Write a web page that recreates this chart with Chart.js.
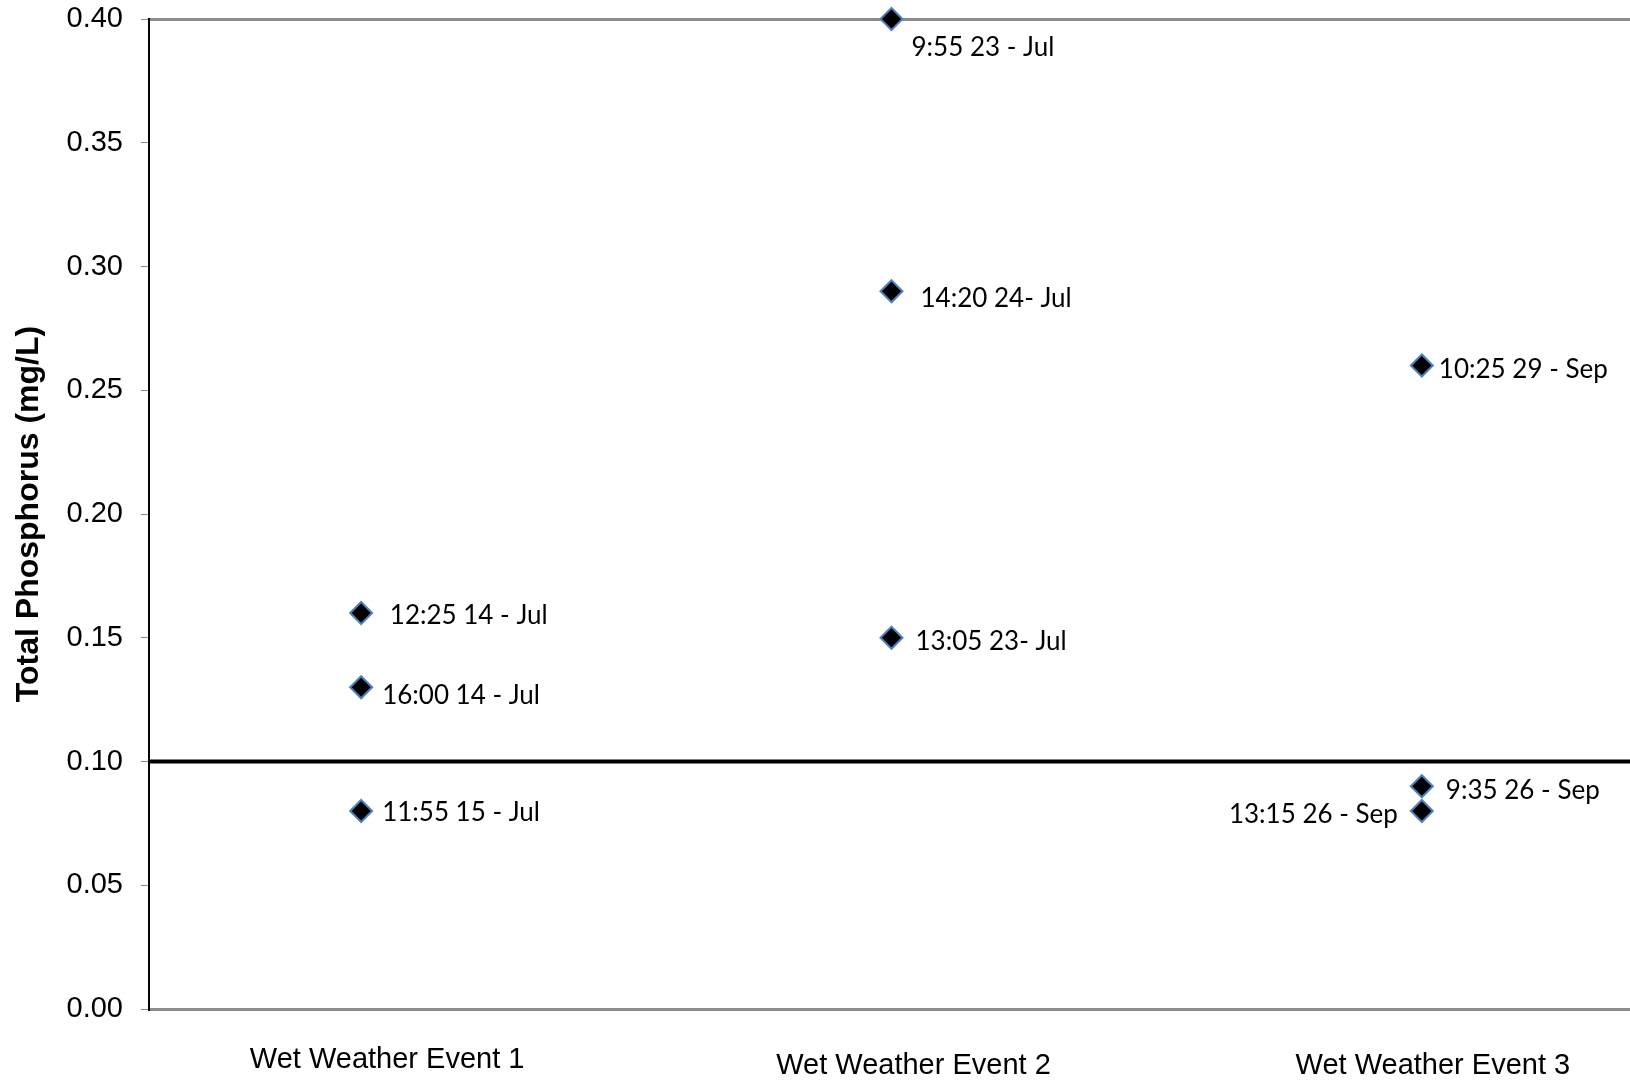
<!DOCTYPE html>
<html><head><meta charset="utf-8">
<script src="https://cdn.jsdelivr.net/npm/chart.js@4.4.0/dist/chart.umd.min.js"></script>
<style>html,body{margin:0;padding:0;background:#fff;overflow:hidden;}#wrap{width:1647px;height:1081px;}</style>
</head><body><div id="wrap"><canvas id="c" width="1647" height="1081"></canvas></div>
<script>
// ---- data ----
const categories = ['Wet Weather Event 1', 'Wet Weather Event 2', 'Wet Weather Event 3'];
const eventIndex = [1, 1, 1, 2, 2, 2, 3, 3, 3];
const phosphorus = [0.16, 0.13, 0.08, 0.40, 0.29, 0.15, 0.26, 0.09, 0.08];
const sampleLabels = [' 12:25 14 - Jul', '16:00 14 - Jul', '11:55 15 - Jul',
  '9:55 23 - Jul', '14:20 24- Jul', '13:05 23- Jul',
  '10:25 29 - Sep', '9:35 26 - Sep', '13:15 26 - Sep'];
const targetValue = 0.10;
const yMin = 0, yMax = 0.40, yStep = 0.05;
const xMin = 0.6, xMax = 3.4;
const yTitle = 'Total Phosphorus (mg/L)';

// ---- styling (label placement relative to marker) ----
const labelOffsets = [[22, 3, 'left'], [21, 8, 'left'], [21, 2, 'left'],
  [20, 29, 'left'], [29, 7, 'left'], [24, 4, 'left'],
  [17, 4, 'left'], [24, 4, 'left'], [-24, 4, 'right']];
const catOffsets = [[26, 51], [22, 57], [11, 57]];

const points = phosphorus.map((v, i) => ({x: eventIndex[i], y: v}));

const labelPlugin = {
  id: 'labels',
  afterDatasetsDraw(chart) {
    const ctx = chart.ctx;
    const meta = chart.getDatasetMeta(1);
    ctx.save();
    ctx.fillStyle = '#000';
    ctx.font = '26px Lato, "Open Sans", sans-serif';
    ctx.textBaseline = 'middle';
    meta.data.forEach((el, i) => {
      const o = labelOffsets[i];
      ctx.textAlign = o[2];
      ctx.fillText(sampleLabels[i], el.x + o[0], el.y + o[1]);
    });
    const xs = chart.scales.x;
    ctx.font = '29px "Liberation Sans", Arial, sans-serif';
    ctx.textAlign = 'center';
    categories.forEach((c, i) => {
      ctx.fillText(c, xs.getPixelForValue(i + 1) + catOffsets[i][0], xs.top + catOffsets[i][1]);
    });
    ctx.restore();
  }
};

new Chart(document.getElementById('c'), {
  data: {
    datasets: [
      {
        type: 'line',
        data: [{x: xMin, y: targetValue}, {x: xMax, y: targetValue}],
        borderColor: '#000', borderWidth: 4, pointRadius: 0, order: 2
      },
      {
        type: 'scatter',
        data: points,
        pointStyle: 'rectRot', pointRadius: 11, pointHoverRadius: 11,
        backgroundColor: '#000', borderColor: '#4f81bd', borderWidth: 2,
        clip: false, order: 1
      }
    ]
  },
  options: {
    responsive: false, animation: false,
    layout: {padding: {top: 19, left: 0, right: 0, bottom: 0}},
    plugins: {legend: {display: false}, tooltip: {enabled: false}},
    scales: {
      x: {
        type: 'linear', min: xMin, max: xMax,
        afterFit(s) { s.height = 72; s.paddingLeft = 0; s.paddingRight = 0; },
        ticks: {display: false},
        grid: {display: false, drawTicks: false},
        border: {display: true, color: '#8c8c8c', width: 3}
      },
      y: {
        min: yMin, max: yMax,
        afterFit(s) { s.width = 149; s.paddingTop = 0; s.paddingBottom = 0; },
        afterBuildTicks(s) {
          const t = [];
          for (let v = yMin; v <= yMax + 1e-9; v += yStep) t.push({value: Math.round(v * 100) / 100});
          s.ticks = t;
        },
        ticks: {
          padding: 18, color: '#000',
          font: {family: '"Liberation Sans", Arial, sans-serif', size: 29},
          callback: v => Number(v).toFixed(2)
        },
        grid: {
          color: c => (c.tick && Math.abs(c.tick.value - yMax) < 1e-9) ? '#8c8c8c' : 'rgba(0,0,0,0)',
          lineWidth: 3, tickColor: '#8c8c8c', tickLength: 8, tickWidth: 1, drawOnChartArea: true
        },
        border: {display: true, color: '#000', width: 2},
        title: {
          display: true, text: yTitle, color: '#000',
          font: {family: '"Liberation Sans", Arial, sans-serif', size: 32, weight: 'bold'},
          padding: {top: 10, bottom: 0}
        }
      }
    }
  },
  plugins: [labelPlugin]
});
</script></body></html>
